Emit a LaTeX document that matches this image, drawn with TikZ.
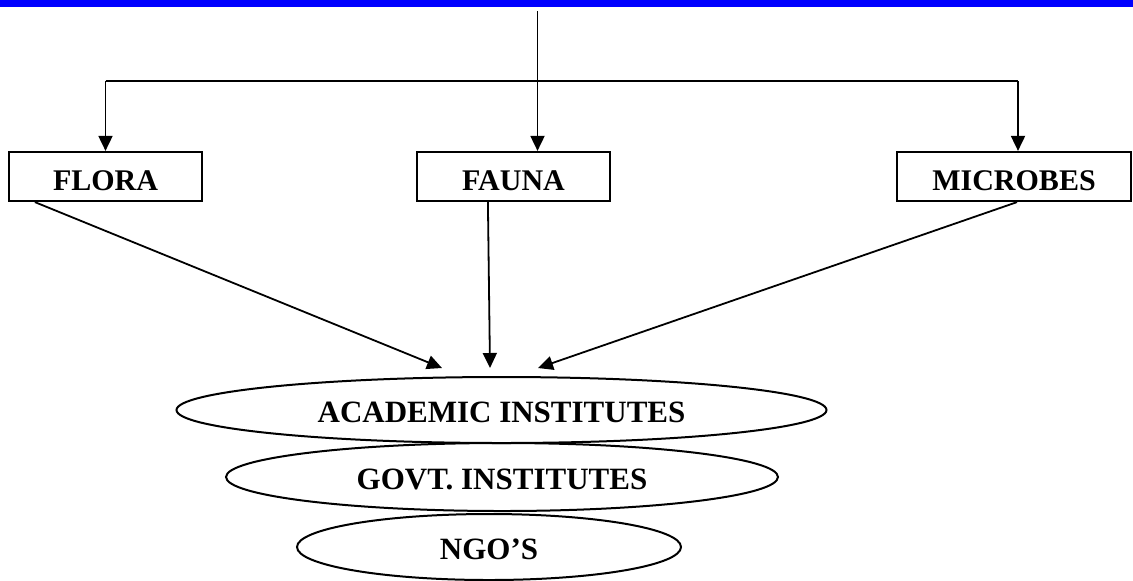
\documentclass[tikz,border=0pt]{standalone}
\usepackage{fontspec}
\setmainfont{Liberation Serif}
\usetikzlibrary{arrows.meta,shapes.geometric,positioning}
\tikzset{
    %Define standard arrow tip
    >={Triangle[length=7.5pt,width=7pt]},
    %Define style for boxes
    kingdom/.style={
           rectangle,
           draw=black, line width=1.1pt,
           minimum width=96.5pt,
           minimum height=24.5pt,
           inner sep=0pt,
           text height=14pt,
           text depth=0pt,
           font=\fontsize{15}{17}\selectfont\bfseries,
           text centered},
    institute/.style={
           ellipse,
           draw=black, line width=1pt,
           minimum height=33pt,
           inner sep=0pt,
           text height=12pt,
           text depth=0pt,
           font=\fontsize{15.5}{17}\selectfont\bfseries,
           text centered},
    % Define arrow style
    pil/.style={
           ->,
           line width=0.9pt}
}
\begin{document}
\begin{tikzpicture}[x=0.5pt,y=-0.5pt]
\useasboundingbox (0,0) rectangle (1133,580);
 %top bar
\fill[blue] (0,0) rectangle (1133,7);
 %nodes
\node[kingdom] (flora) at (105.5,176.5) {FLORA};
\node[kingdom] (fauna) at (513.5,176.5) {FAUNA};
\node[kingdom, minimum width=117pt] (microbes) at (1014,176.5) {MICROBES};
\node[institute, minimum width=325pt] (academic) at (501.5,410) {ACADEMIC INSTITUTES};
\node[institute, minimum width=276pt, minimum height=34pt] (govt) at (502,477) {GOVT. INSTITUTES};
\node[institute, minimum width=192pt] (ngo) at (489,547) {NGO’S};
 %branch points
\coordinate (source) at (537.5,11);
\coordinate (split) at (537.5,81);
\coordinate (mdrop) at (1018,81);
\coordinate (ftip) at (442,368);
\coordinate (atip) at (490,368);
\coordinate (mtip) at (538,368);
 %connectors
\draw[line width=0.9pt] (flora.north |- split) -- (mdrop);
\path[pil]
    (source) edge (source |- fauna.north)
    (flora.north |- split) edge (flora.north)
    (mdrop) edge (mdrop |- microbes.north)
    ([xshift=13.5pt]flora.south west) edge (ftip)
    ([xshift=36pt]fauna.south west) edge (atip)
    ([xshift=1.5pt]microbes.south) edge (mtip);
\end{tikzpicture}
\end{document}
